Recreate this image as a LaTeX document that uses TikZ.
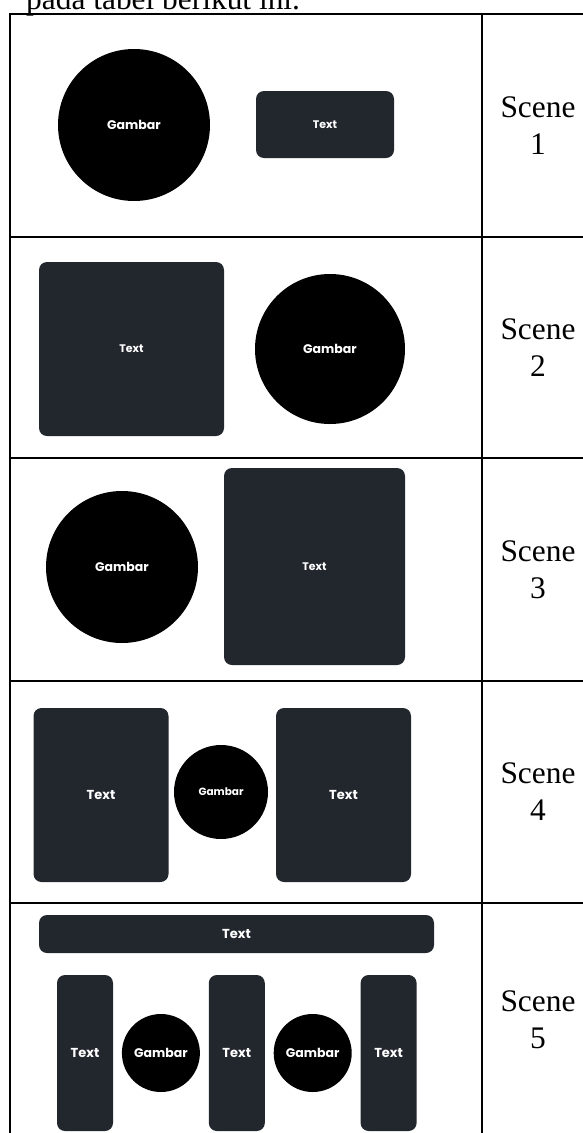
\documentclass[tikz,border=0pt]{standalone}
\usepackage{fontspec}
\setmainfont{Liberation Serif}
\newfontfamily\uifont{Poppins}
\usetikzlibrary{positioning}
\definecolor{slate}{RGB}{34,39,46}

\begin{document}
\begin{tikzpicture}[x=1pt,y=-1pt,node distance=8.5pt,
  txtbox/.style={fill=slate,rounded corners=8pt,inner sep=0pt,text=white,font=\uifont\bfseries\fontsize{11}{13}\selectfont},
  picdisk/.style={circle,fill=black,inner sep=0pt,text=white,font=\uifont\bfseries\fontsize{12.5}{14}\selectfont},
  bigtxt/.style={font=\uifont\bfseries\fontsize{13}{15}\selectfont},
  scenelbl/.style={align=center,inner sep=0pt,font=\fontsize{31.4}{37}\selectfont},
  rule/.style={line width=2pt}]
\clip (0,0) rectangle (583,1133);
% caption line cut at the top
\node[anchor=base west,inner sep=0pt,font=\fontsize{31.4}{37}\selectfont] (cap) at (26,9) {pada tabel berikut ini.};
% table grid
\draw[rule] (10,1150) -- (10,14) -- (600,14);
\draw[rule] (482,14) -- (482,1150);
\foreach \yy in {237,458,681,903}
  \draw[rule] (10,\yy) -- (600,\yy);
% scene names
\foreach \n/\yy in {1/125.5,2/347.5,3/569.5,4/792,5/1020}
  \node[scenelbl] (sc\n) at (538,\yy) {Scene\\\n};
% scene 1
\node[picdisk,minimum size=152pt] (g1) at (134,125) {Gambar};
\node[txtbox,minimum width=138pt,minimum height=67pt] (t1) at (325,124.5) {Text};
% scene 2
\node[txtbox,minimum width=185pt,minimum height=174pt] (t2) at (131.5,349) {Text};
\node[picdisk,minimum size=150pt] (g2) at (330,349) {Gambar};
% scene 3
\node[picdisk,minimum size=152pt] (g3) at (122,567) {Gambar};
\node[txtbox,minimum width=181pt,minimum height=197pt] (t3) at (314.5,566.5) {Text};
% scene 4
\node[txtbox,minimum width=135pt,minimum height=174pt,bigtxt] (t4a) at (101,795) {Text};
\node[picdisk,minimum size=94pt,font=\uifont\bfseries\fontsize{10.5}{12}\selectfont] (g4) at (221,792) {Gambar};
\node[txtbox,minimum width=135pt,minimum height=174pt,bigtxt] (t4b) at (343.5,795) {Text};
% scene 5
\node[txtbox,minimum width=395pt,minimum height=38pt,bigtxt] (bar5) at (236.5,934) {Text};
\node[txtbox,minimum width=56pt,minimum height=156pt,bigtxt] (t5a) at (85,1053) {Text};
\node[picdisk,minimum size=78pt,right=of t5a] (g5a) {Gambar};
\node[txtbox,minimum width=56pt,minimum height=156pt,bigtxt,right=of g5a] (t5b) {Text};
\node[picdisk,minimum size=78pt,right=of t5b] (g5b) {Gambar};
\node[txtbox,minimum width=56pt,minimum height=156pt,bigtxt,right=of g5b] (t5c) {Text};
\end{tikzpicture}
\end{document}
